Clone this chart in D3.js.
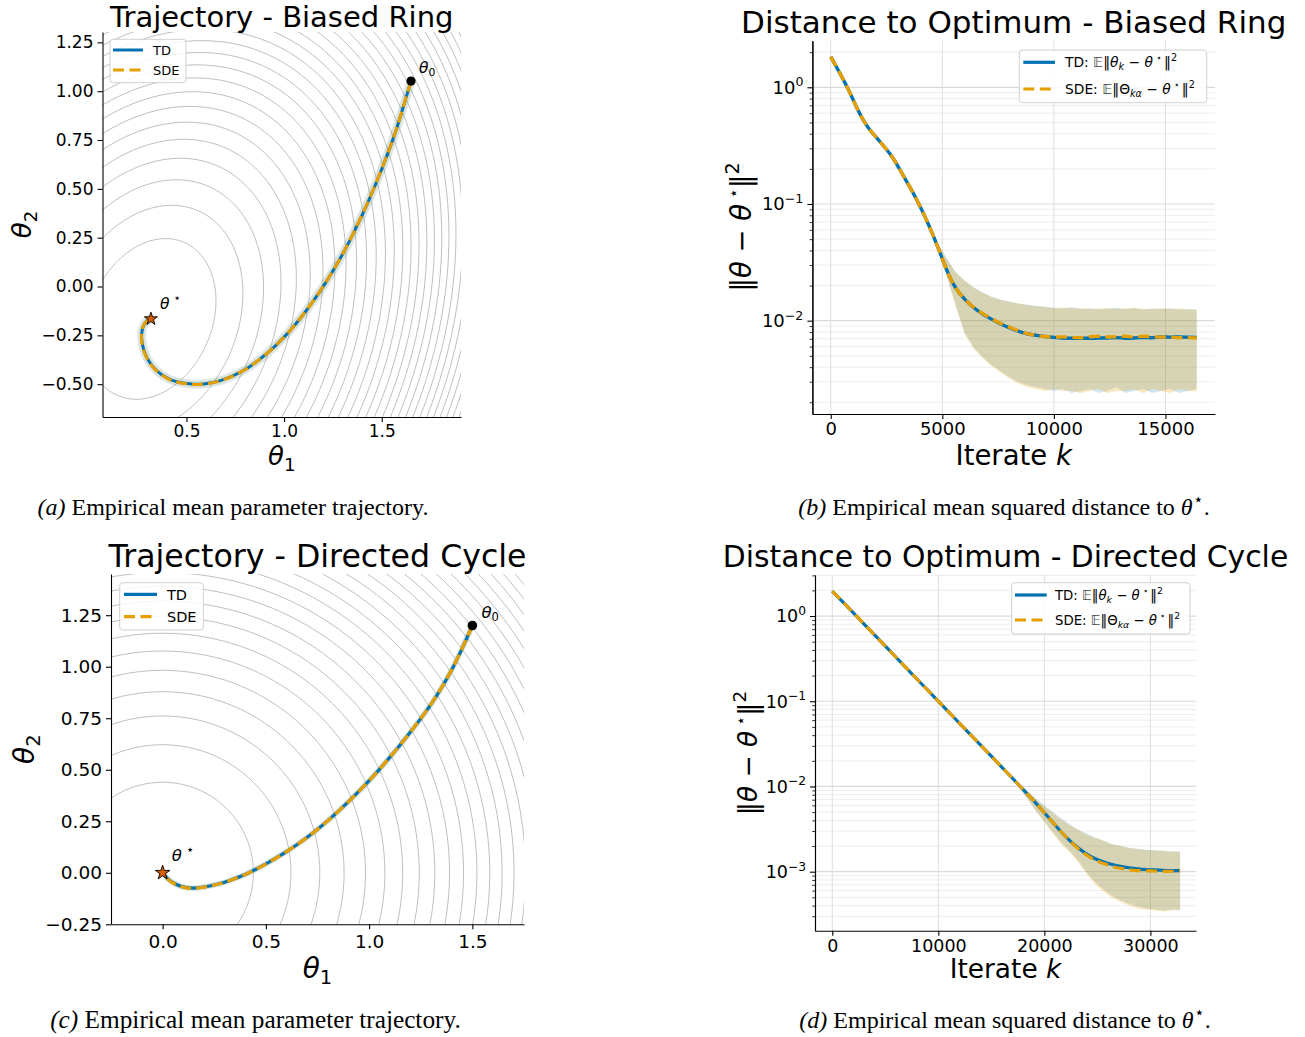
<!DOCTYPE html>
<html><head><meta charset="utf-8">
<script src="https://cdn.jsdelivr.net/npm/d3@7"></script>
<style>body{margin:0;background:#fff} svg text{font-family:"DejaVu Sans",sans-serif}</style>
</head><body>
<svg id="fig" width="1305" height="1037" style="background:#fff"></svg>
<script>
// ---------------- DATA ----------------
// Panel (a): Biased Ring mean trajectory (theta1, theta2), from theta0 to theta*
const ringTD = [[1.650,1.052],[1.613,0.928],[1.576,0.808],[1.542,0.711],[1.508,0.621],[1.466,0.517],[1.423,0.417],[1.380,0.324],[1.337,0.236],[1.295,0.157],[1.252,0.083],[1.210,0.015],[1.167,-0.049],[1.124,-0.109],[1.081,-0.165],[1.039,-0.216],[0.996,-0.263],[0.954,-0.305],[0.911,-0.344],[0.868,-0.378],[0.825,-0.409],[0.782,-0.435],[0.740,-0.456],[0.698,-0.473],[0.655,-0.487],[0.612,-0.495],[0.569,-0.500],[0.535,-0.500],[0.501,-0.497],[0.462,-0.490],[0.424,-0.479],[0.390,-0.462],[0.356,-0.438],[0.328,-0.410],[0.305,-0.378],[0.288,-0.343],[0.277,-0.307],[0.271,-0.272],[0.271,-0.240],[0.276,-0.212],[0.287,-0.188],[0.300,-0.174],[0.318,-0.166]];
const ringSDE = [[1.650,1.052],[1.612,0.926],[1.575,0.806],[1.541,0.709],[1.507,0.620],[1.465,0.516],[1.422,0.416],[1.379,0.323],[1.336,0.235],[1.294,0.156],[1.251,0.082],[1.209,0.014],[1.166,-0.050],[1.123,-0.110],[1.080,-0.166],[1.038,-0.217],[0.995,-0.264],[0.953,-0.306],[0.910,-0.345],[0.867,-0.379],[0.824,-0.410],[0.781,-0.436],[0.739,-0.457],[0.697,-0.474],[0.654,-0.488],[0.611,-0.496],[0.568,-0.501],[0.534,-0.501],[0.500,-0.498],[0.461,-0.491],[0.423,-0.480],[0.389,-0.463],[0.355,-0.439],[0.327,-0.411],[0.304,-0.379],[0.287,-0.344],[0.276,-0.308],[0.270,-0.273],[0.270,-0.241],[0.275,-0.213],[0.286,-0.189],[0.300,-0.175],[0.318,-0.166]];
const ringTheta0 = [1.65, 1.052];
const ringThetaStar = [0.318, -0.166];
// quadratic form of contour function around theta*: a*dx^2 + 2b*dx*dy + c*dy^2
const ringQuad = [9.5, -1.74, 6.23];
const ringLevels = [1,2,3,4,5,6,7,8,9,10,11,12,13,14,15,16,17,18,19,20,21,22,23,24,25,26,27,28,29,30,31,32];

// Panel (c): Directed Cycle mean trajectory
const cycleTD = [[1.500,1.200],[1.450,1.088],[1.400,0.985],[1.350,0.897],[1.300,0.818],[1.250,0.748],[1.200,0.683],[1.150,0.620],[1.100,0.560],[1.050,0.502],[1.000,0.447],[0.950,0.395],[0.900,0.345],[0.850,0.298],[0.800,0.253],[0.750,0.211],[0.700,0.172],[0.650,0.136],[0.600,0.103],[0.550,0.072],[0.500,0.043],[0.450,0.016],[0.400,-0.008],[0.350,-0.028],[0.300,-0.046],[0.250,-0.059],[0.200,-0.069],[0.150,-0.074],[0.110,-0.071],[0.070,-0.058],[0.030,-0.034],[0.000,0.000]];
const cycleSDE = [[1.500,1.200],[1.449,1.086],[1.399,0.984],[1.349,0.896],[1.299,0.817],[1.249,0.747],[1.199,0.682],[1.149,0.619],[1.099,0.559],[1.049,0.501],[0.999,0.446],[0.949,0.394],[0.899,0.344],[0.849,0.297],[0.799,0.252],[0.749,0.210],[0.699,0.171],[0.649,0.135],[0.599,0.102],[0.549,0.071],[0.499,0.042],[0.449,0.015],[0.399,-0.009],[0.349,-0.029],[0.299,-0.047],[0.249,-0.060],[0.199,-0.070],[0.149,-0.075],[0.109,-0.072],[0.069,-0.059],[0.029,-0.035],[0.000,0.000]];
const cycleTheta0 = [1.5, 1.2];
const cycleThetaStar = [0.0, 0.0];
const cycleQuad = [5.18, 0, 5.18];
const cycleLevels = [1,2,3,4,5,6,7,8,9,10,11,12,13,14,15,16,17,18,19,20,21,22,23,24,25,26,27,28];

// Panel (b): Distance to optimum, Biased Ring
const iterB = [0,400,800,1200,1600,2000,2400,2800,3200,3600,4000,4400,4800,5200,5600,6000,6400,6800,7200,7600,8000,8400,8800,9200,9600,10000,10400,10800,11200,11600,12000,12400,12800,13200,13600,14000,14400,14800,15200,15600,16000,16400];
const distTD_B = [1.83,1.33,0.96,0.64,0.465,0.38,0.31,0.25,0.181,0.135,0.096,0.066,0.043,0.0265,0.0186,0.0152,0.0129,0.0114,0.0103,0.0094,0.0087,0.0081,0.0077,0.0075,0.0073,0.0072,0.0071,0.00705,0.0071,0.00705,0.0071,0.0071,0.0072,0.00705,0.0071,0.0072,0.0071,0.0073,0.0072,0.0073,0.0072,0.0072];
const distSDE_B = [1.83,1.33,0.96,0.64,0.465,0.38,0.31,0.25,0.181,0.135,0.096,0.066,0.043,0.0265,0.0186,0.0152,0.0130,0.0115,0.0104,0.0095,0.0088,0.0082,0.0077,0.0075,0.0073,0.0072,0.0073,0.0072,0.0071,0.0073,0.0074,0.0072,0.0073,0.0074,0.0072,0.0074,0.0073,0.0072,0.0073,0.0071,0.0072,0.0071];
const iterBandB = [4400,4800,5200,5600,6000,6400,6800,7200,7600,8000,8400,8800,9200,9600,10000,10400,10800,11200,11600,12000,12400,12800,13200,13600,14000,14400,14800,15200,15600,16000,16400];
const hiTD_B = [0.067,0.046,0.034,0.026,0.0220,0.0193,0.0175,0.0161,0.0152,0.0146,0.0140,0.0137,0.0134,0.0132,0.0129,0.0127,0.0131,0.0126,0.0128,0.0125,0.0127,0.0129,0.0126,0.0128,0.0125,0.0127,0.0126,0.0128,0.0125,0.0126,0.0124];
const loTD_B = [0.065,0.040,0.024,0.0135,0.0079,0.0059,0.0049,0.0042,0.0037,0.0033,0.0030,0.0028,0.0027,0.0026,0.0025,0.0026,0.0024,0.0025,0.0026,0.0024,0.0025,0.0027,0.0024,0.0025,0.0026,0.0024,0.0025,0.0026,0.0024,0.0025,0.0026];
const hiSDE_B = [0.067,0.046,0.034,0.026,0.0221,0.0192,0.0174,0.0160,0.0151,0.0145,0.0141,0.0136,0.0133,0.0131,0.0128,0.0129,0.0127,0.0128,0.0126,0.0127,0.0128,0.0126,0.0127,0.0129,0.0126,0.0126,0.0128,0.0126,0.0127,0.0125,0.0125];
const loSDE_B = [0.065,0.040,0.024,0.0133,0.0077,0.0058,0.0048,0.0041,0.0036,0.0032,0.0029,0.0027,0.0026,0.0025,0.0026,0.0025,0.0025,0.0024,0.0025,0.0026,0.0024,0.0025,0.0025,0.0026,0.0024,0.0026,0.0025,0.0024,0.0026,0.0025,0.0025];

// Panel (d): Distance to optimum, Directed Cycle
const iterD = [0,800,1600,2400,3200,4000,4800,5600,6400,7200,8000,8800,9600,10400,11200,12000,12800,13600,14400,15200,16000,16800,17600,18400,19200,20000,20800,21600,22400,23200,24000,24800,25600,26400,27200,28000,28800,29600,30400,31200,32000,32800];
const distTD_D = [1.96,1.55,1.22,0.962,0.757,0.597,0.470,0.371,0.292,0.230,0.181,0.143,0.113,0.0887,0.070,0.0551,0.0435,0.0343,0.0270,0.0213,0.0168,0.0132,0.0104,0.0082,0.0064,0.0049,0.0038,0.0029,0.0023,0.00188,0.00160,0.00141,0.00130,0.00121,0.00115,0.00111,0.00108,0.00106,0.00105,0.00104,0.00103,0.00103];
const distSDE_D = [1.96,1.55,1.22,0.962,0.757,0.597,0.470,0.371,0.292,0.230,0.181,0.143,0.113,0.0887,0.070,0.0551,0.0435,0.0343,0.0270,0.0213,0.0168,0.0132,0.0104,0.0082,0.0064,0.0049,0.0038,0.0029,0.0023,0.00185,0.00155,0.00136,0.00124,0.00115,0.00109,0.00105,0.00103,0.00102,0.00102,0.00101,0.00101,0.00102];
const iterBandD = [16800,17600,18400,19200,20000,20800,21600,22400,23200,24000,24800,25600,26400,27200,28000,28800,29600,30400,31200,32000,32800];
const hiTD_D = [0.0135,0.0108,0.0088,0.0072,0.0060,0.0050,0.0042,0.0036,0.0031,0.0028,0.0025,0.0023,0.0021,0.0020,0.0019,0.00186,0.00181,0.00178,0.00176,0.00173,0.00172];
const loTD_D = [0.0128,0.0098,0.0072,0.0052,0.0039,0.0029,0.0022,0.00175,0.00135,0.00098,0.00075,0.00062,0.00052,0.00046,0.00042,0.00039,0.00037,0.00036,0.00035,0.00036,0.00035];
const hiSDE_D = [0.0135,0.0108,0.0087,0.0071,0.0059,0.0049,0.0041,0.0035,0.0031,0.0027,0.0025,0.0023,0.0021,0.0020,0.0019,0.00184,0.00180,0.00177,0.00175,0.00172,0.00171];
const loSDE_D = [0.0128,0.0097,0.0071,0.0051,0.0038,0.0028,0.0021,0.00168,0.00128,0.00093,0.00071,0.00058,0.00049,0.00044,0.00040,0.00037,0.00036,0.00035,0.00034,0.00035,0.00036];

// Tick values and labels
const ringXTicks = [0.5, 1.0, 1.5];
const ringYTicks = [-0.5,-0.25,0.0,0.25,0.5,0.75,1.0,1.25];
const cycleXTicks = [0.0, 0.5, 1.0, 1.5];
const cycleYTicks = [-0.25,0.0,0.25,0.5,0.75,1.0,1.25];
const distBXTicks = [0,5000,10000,15000];
const distDXTicks = [0,10000,20000,30000];
const distBYTicks = [1,0.1,0.01];
const distBYExp = ["0","\u22121","\u22122"];
const distDYTicks = [1,0.1,0.01,0.001];
const distDYExp = ["0","\u22121","\u22122","\u22123"];

const titles = ["Trajectory - Biased Ring","Distance to Optimum - Biased Ring","Trajectory - Directed Cycle","Distance to Optimum - Directed Cycle"];
const captions = [["(a)"," Empirical mean parameter trajectory."],["(b)"," Empirical mean squared distance to "],["(c)"," Empirical mean parameter trajectory."],["(d)"," Empirical mean squared distance to "]];
const seriesNames = ["TD","SDE"];

// ---------------- DRAWING ----------------
const BLUE = "#0072B2", ORANGE = "#E69F00", STARC = "#D55E00";
const svg = d3.select("#fig");

function mathText(parent, x, y, fs, parts, anchor) {
  const t = parent.append("text").attr("x", x).attr("y", y).attr("font-size", fs)
    .attr("text-anchor", anchor || "start").attr("fill", "#000");
  let off = 0;
  parts.forEach(p => {
    const target = p.sub ? 0.22 * fs : (p.sup ? -0.42 * fs : 0);
    const ts = t.append("tspan").text(p.t).attr("dy", target - off);
    off = target;
    if (p.sub || p.sup) ts.attr("font-size", (p.scale || 0.7) * fs);
    if (p.it) ts.attr("font-style", "italic");
    if (p.fill) ts.attr("fill", p.fill);
  });
  return t;
}

function styleAxis(g, fs) {
  g.attr("font-family", null).attr("font-size", null);
  g.selectAll("path.domain").attr("stroke", "#000").attr("stroke-width", 1.1);
  g.selectAll(".tick line").attr("stroke", "#000").attr("stroke-width", 1.1);
  g.selectAll(".tick text").attr("font-size", fs).attr("fill", "#000").attr("font-family", "DejaVu Sans");
}

function legend(parent, o) {
  const g = parent.append("g");
  g.append("rect").attr("x", o.x).attr("y", o.y).attr("width", o.w).attr("height", o.h)
    .attr("rx", 3).attr("fill", "#fff").attr("fill-opacity", 0.85).attr("stroke", "#d0d0d0").attr("stroke-width", 1);
  o.rows.forEach((r, i) => {
    const yy = o.ly[i];
    g.append("line").attr("x1", o.lx0).attr("x2", o.lx1).attr("y1", yy).attr("y2", yy)
      .attr("stroke", i === 0 ? BLUE : ORANGE).attr("stroke-width", o.lw)
      .attr("stroke-dasharray", i === 0 ? null : "11,5.5");
    mathText(g, o.tx, yy + 0.36 * o.fs, o.fs, r);
  });
}

function trajPanel(o) {
  const g = svg.append("g");
  const xs = d3.scaleLinear().domain(o.xdom).range([o.L, o.R]);
  const ys = d3.scaleLinear().domain(o.ydom).range([o.B, o.T]);
  const cid = "clip" + o.id;
  svg.append("defs").append("clipPath").attr("id", cid).append("rect")
    .attr("x", o.L).attr("y", o.T).attr("width", o.R - o.L).attr("height", o.B - o.T);
  const pg = g.append("g").attr("clip-path", `url(#${cid})`);
  // contours
  const [qa, qb, qc] = o.quad;
  const angles = d3.range(0, 361, 1.5).map(d => d * Math.PI / 180);
  const cl = d3.line().x(d => xs(d[0])).y(d => ys(d[1]));
  o.levels.forEach(n => {
    const pts = angles.map(a => {
      const ux = Math.cos(a), uy = Math.sin(a);
      const q = qa * ux * ux + 2 * qb * ux * uy + qc * uy * uy;
      const r = Math.sqrt(n / q);
      return [o.star[0] + r * ux, o.star[1] + r * uy];
    });
    pg.append("path").attr("d", cl(pts)).attr("fill", "none").attr("stroke", "#b8b8b8").attr("stroke-width", 0.9);
  });
  const line = d3.line().x(d => xs(d[0])).y(d => ys(d[1])).curve(d3.curveCatmullRom.alpha(0.5));
  pg.append("path").attr("d", line(o.td)).attr("fill", "none").attr("stroke", BLUE).attr("stroke-opacity", 0.13).attr("stroke-width", o.halo).attr("stroke-linecap", "round");
  pg.append("path").attr("d", line(o.sde)).attr("fill", "none").attr("stroke", ORANGE).attr("stroke-opacity", 0.12).attr("stroke-width", o.halo * 0.8).attr("stroke-linecap", "round");
  pg.append("path").attr("d", line(o.td)).attr("fill", "none").attr("stroke", BLUE).attr("stroke-width", o.lw);
  pg.append("path").attr("d", line(o.sde)).attr("fill", "none").attr("stroke", ORANGE).attr("stroke-width", o.lw).attr("stroke-dasharray", "11,5");
  g.append("circle").attr("cx", xs(o.theta0[0])).attr("cy", ys(o.theta0[1])).attr("r", o.dotR).attr("fill", "#000");
  g.append("path").attr("d", d3.symbol().type(d3.symbolStar).size(o.starSize)())
    .attr("transform", `translate(${xs(o.star[0])},${ys(o.star[1])})`)
    .attr("fill", STARC).attr("stroke", "#000").attr("stroke-width", 0.9);
  mathText(g, xs(o.theta0[0]) + o.t0off[0], ys(o.theta0[1]) + o.t0off[1], o.annFs, [{t: "\u03B8", it: true}, {t: "0", sub: true}]);
  mathText(g, xs(o.star[0]) + o.tsoff[0], ys(o.star[1]) + o.tsoff[1], o.annFs, [{t: "\u03B8", it: true}, {t: " \u22C6", sup: true, scale: 0.8}]);
  const xa = g.append("g").attr("transform", `translate(0,${o.B})`)
    .call(d3.axisBottom(xs).tickValues(o.xticks).tickFormat(d3.format(".1f")).tickSize(5).tickSizeOuter(0).tickPadding(o.xpad));
  styleAxis(xa, o.tickFs);
  const ya = g.append("g").attr("transform", `translate(${o.L},0)`)
    .call(d3.axisLeft(ys).tickValues(o.yticks).tickFormat(d => d3.format(".2f")(d).replace("-", "\u2212")).tickSize(5).tickSizeOuter(0).tickPadding(o.ypad));
  styleAxis(ya, o.tickFs);
  g.append("text").attr("x", (o.L + o.R) / 2).attr("y", o.titleY).attr("text-anchor", "middle")
    .attr("font-size", o.titleFs).text(o.title);
  mathText(g, (o.L + o.R) / 2, o.xlabY, o.labFs, [{t: "\u03B8", it: true}, {t: "1", sub: true}], "middle");
  const yl = g.append("g").attr("transform", `translate(${o.ylabX},${(o.T + o.B) / 2}) rotate(-90)`);
  mathText(yl, 0, 0, o.labFs, [{t: "\u03B8", it: true}, {t: "2", sub: true}], "middle");
  legend(g, o.leg);
}

function distPanel(o) {
  const g = svg.append("g");
  const xs = d3.scaleLinear().domain(o.xdom).range([o.L, o.R]);
  const ys = d3.scaleLog().domain(o.ydom).range([o.B, o.T]);
  const cid = "clip" + o.id;
  svg.append("defs").append("clipPath").attr("id", cid).append("rect")
    .attr("x", o.L).attr("y", o.T).attr("width", o.R - o.L).attr("height", o.B - o.T);
  const allTicks = ys.ticks();
  const minor = allTicks.filter(v => !o.yticks.some(m => Math.abs(m - v) / m < 1e-6));
  const grid = g.append("g");
  minor.forEach(v => grid.append("line").attr("x1", o.L).attr("x2", o.R).attr("y1", ys(v)).attr("y2", ys(v)).attr("stroke", "#ebebeb").attr("stroke-width", 0.9));
  o.yticks.forEach(v => grid.append("line").attr("x1", o.L).attr("x2", o.R).attr("y1", ys(v)).attr("y2", ys(v)).attr("stroke", "#dadada").attr("stroke-width", 1.2));
  o.xticks.forEach(v => grid.append("line").attr("x1", xs(v)).attr("x2", xs(v)).attr("y1", o.T).attr("y2", o.B).attr("stroke", "#dedede").attr("stroke-width", 1));
  const pg = g.append("g").attr("clip-path", `url(#${cid})`);
  const area = (k, lo, hi) => d3.area().x((d, i) => xs(k[i])).y0((d, i) => ys(lo[i])).y1((d, i) => ys(hi[i]))(k);
  pg.append("path").attr("d", area(o.bandK, o.loTD, o.hiTD)).attr("fill", BLUE).attr("fill-opacity", 0.18);
  pg.append("path").attr("d", area(o.bandK, o.loSDE, o.hiSDE)).attr("fill", ORANGE).attr("fill-opacity", 0.25);
  const line = (k, v) => d3.line().x((d, i) => xs(k[i])).y((d, i) => ys(v[i])).curve(d3.curveBasis)(k);
  pg.append("path").attr("d", line(o.k, o.td)).attr("fill", "none").attr("stroke", BLUE).attr("stroke-width", o.lw);
  pg.append("path").attr("d", line(o.k, o.sde)).attr("fill", "none").attr("stroke", ORANGE).attr("stroke-width", o.lw).attr("stroke-dasharray", "11,5.5");
  const xa = g.append("g").attr("transform", `translate(0,${o.B})`)
    .call(d3.axisBottom(xs).tickValues(o.xticks).tickFormat(d3.format("d")).tickSize(5).tickSizeOuter(0).tickPadding(o.xpad));
  styleAxis(xa, o.tickFs);
  const yminor = g.append("g").attr("transform", `translate(${o.L},0)`)
    .call(d3.axisLeft(ys).tickValues(minor).tickFormat("").tickSize(2.8).tickSizeOuter(0));
  styleAxis(yminor, o.tickFs);
  yminor.selectAll(".tick line").attr("stroke-width", 0.8);
  const ya = g.append("g").attr("transform", `translate(${o.L},0)`)
    .call(d3.axisLeft(ys).tickValues(o.yticks).tickFormat("").tickSize(5).tickSizeOuter(0));
  styleAxis(ya, o.tickFs);
  o.yticks.forEach((v, i) => {
    mathText(g, o.L - 5 - o.ypad, ys(v) + 0.36 * o.tickFs, o.tickFs, [{t: "10"}, {t: o.yexp[i], sup: true}], "end");
  });
  g.append("text").attr("x", (o.L + o.R) / 2).attr("y", o.titleY).attr("text-anchor", "middle")
    .attr("font-size", o.titleFs).text(o.title);
  mathText(g, (o.L + o.R) / 2, o.xlabY, o.labFs, [{t: "Iterate "}, {t: "k", it: true}], "middle");
  const yl = g.append("g").attr("transform", `translate(${o.ylabX},${o.ylabY}) rotate(-90)`);
  mathText(yl, 0, 0, o.labFs, [{t: "\u2016"}, {t: "\u03B8", it: true}, {t: " \u2212 "}, {t: "\u03B8", it: true}, {t: " \u22C6", sup: true, scale: 0.6}, {t: "\u2016"}, {t: "2", sup: true}], "middle");
  legend(g, o.leg);
}

const legTD = [{t: seriesNames[0] + ": "}, {t: "\uD835\uDD3C", fill: "#444"}, {t: "\u2016"}, {t: "\u03B8", it: true}, {t: "k", sub: true, it: true}, {t: " \u2212 "}, {t: "\u03B8", it: true}, {t: " \u22C6\u2009", sup: true, scale: 0.7}, {t: "\u2016"}, {t: "2", sup: true}];
const legSDE = [{t: seriesNames[1] + ": "}, {t: "\uD835\uDD3C", fill: "#444"}, {t: "\u2016"}, {t: "\u0398"}, {t: "k\u03B1", sub: true, it: true}, {t: " \u2212 "}, {t: "\u03B8", it: true}, {t: " \u22C6\u2009", sup: true, scale: 0.7}, {t: "\u2016"}, {t: "2", sup: true}];

trajPanel({id: "a", L: 102.5, R: 461, T: 32, B: 417, xdom: [0.07, 1.906], ydom: [-0.668, 1.303],
  quad: ringQuad, levels: ringLevels, star: ringThetaStar, theta0: ringTheta0, td: ringTD, sde: ringSDE,
  xticks: ringXTicks, yticks: ringYTicks, tickFs: 17, xpad: 3, ypad: 4, lw: 3, halo: 9, dotR: 4.6, starSize: 52,
  annFs: 15.5, t0off: [8, -8], tsoff: [9, -10],
  title: titles[0], titleFs: 29, titleY: 27, labFs: 26, xlabY: 465, ylabX: 31,
  leg: {x: 110, y: 39.3, w: 76, h: 43.4, lx0: 113, lx1: 143, ly: [50, 70], tx: 153, fs: 13, lw: 3,
    rows: [[{t: seriesNames[0]}], [{t: seriesNames[1]}]]}});

trajPanel({id: "c", L: 111, R: 524, T: 574, B: 924.3, xdom: [-0.25, 1.75], ydom: [-0.25, 1.45],
  quad: cycleQuad, levels: cycleLevels, star: cycleThetaStar, theta0: cycleTheta0, td: cycleTD, sde: cycleSDE,
  xticks: cycleXTicks, yticks: cycleYTicks, tickFs: 18.5, xpad: 5.5, ypad: 4, lw: 3.2, halo: 6, dotR: 4.8, starSize: 66,
  annFs: 16.5, t0off: [9, -8], tsoff: [9, -12],
  title: titles[2], titleFs: 31.6, titleY: 566.5, labFs: 28, xlabY: 978, ylabX: 34,
  leg: {x: 119.7, y: 582.7, w: 83.7, h: 47.3, lx0: 124, lx1: 157, ly: [594.3, 616.7], tx: 167, fs: 14.5, lw: 3.2,
    rows: [[{t: seriesNames[0]}], [{t: seriesNames[1]}]]}});

distPanel({id: "b", L: 812.4, R: 1215, T: 40.7, B: 414, xdom: [-822, 17220], ydom: [0.001587, 2.507],
  k: iterB, td: distTD_B, sde: distSDE_B, bandK: iterBandB, hiTD: hiTD_B, loTD: loTD_B, hiSDE: hiSDE_B, loSDE: loSDE_B,
  xticks: distBXTicks, yticks: distBYTicks, yexp: distBYExp, tickFs: 18, xpad: 3, ypad: 4, lw: 3.4,
  title: titles[1], titleFs: 31, titleY: 33.3, labFs: 27.5, xlabY: 465, ylabX: 751, ylabY: 227,
  leg: {x: 1019.3, y: 50, w: 187.4, h: 52.7, lx0: 1023.3, lx1: 1055, ly: [62.3, 89], tx: 1065, fs: 13.8, lw: 3.2,
    rows: [legTD, legSDE]}});

distPanel({id: "d", L: 815, R: 1196, T: 575, B: 930.7, xdom: [-1630, 34300], ydom: [0.000203, 3.03],
  k: iterD, td: distTD_D, sde: distSDE_D, bandK: iterBandD, hiTD: hiTD_D, loTD: loTD_D, hiSDE: hiSDE_D, loSDE: loSDE_D,
  xticks: distDXTicks, yticks: distDYTicks, yexp: distDYExp, tickFs: 17.5, xpad: 3.6, ypad: 4, lw: 3.2,
  title: titles[3], titleFs: 29.8, titleY: 567, labFs: 26.4, xlabY: 978, ylabX: 757, ylabY: 753,
  leg: {x: 1011.7, y: 582.7, w: 178.3, h: 51.3, lx0: 1015, lx1: 1046.7, ly: [595, 620], tx: 1055, fs: 13.3, lw: 3.2,
    rows: [legTD, legSDE]}});

function caption(i, cx, y, fs, withTheta) {
  const t = svg.append("text").attr("x", cx).attr("y", y).attr("text-anchor", "middle")
    .attr("font-size", fs).style("font-family", "'Liberation Serif', serif");
  t.append("tspan").attr("font-style", "italic").text(captions[i][0]);
  t.append("tspan").text(captions[i][1]);
  if (withTheta) {
    t.append("tspan").attr("font-style", "italic").text("\u03B8");
    t.append("tspan").attr("font-size", fs * 0.7).attr("dy", -0.42 * fs).text("\u22C6");
    t.append("tspan").attr("dy", 0.42 * fs).text(".");
  }
}
caption(0, 233, 515, 24, false);
caption(1, 1004, 515, 24, true);
caption(2, 255.5, 1028, 25.3, false);
caption(3, 1005, 1028, 24, true);
</script>
</body></html>
